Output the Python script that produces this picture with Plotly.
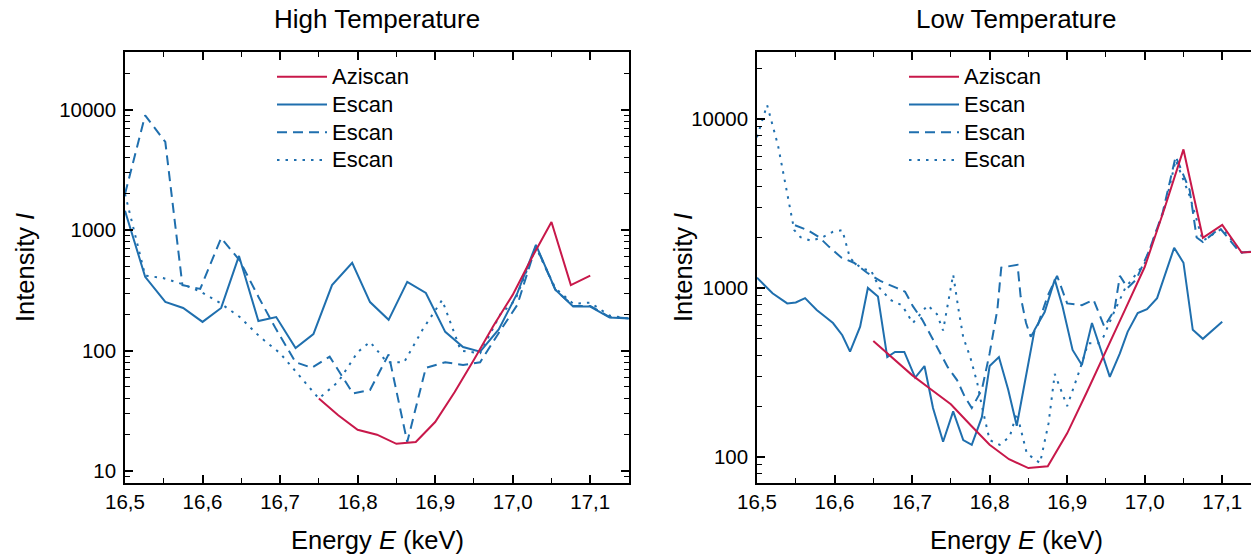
import plotly.graph_objects as go

# ---------------- data ----------------
# High temperature panel
hi_azi_E = [16.75, 16.775, 16.80, 16.825, 16.85, 16.875, 16.90, 16.925, 16.95, 16.975, 17.00, 17.025, 17.05, 17.075, 17.10]
hi_azi_I = [40, 29, 22, 20, 16.8, 17.4, 25.5, 45, 84, 160, 290, 596, 1170, 350, 420]

hi_solid_E = [16.5, 16.526, 16.552, 16.575, 16.6, 16.624, 16.647, 16.672, 16.695, 16.72, 16.743, 16.767,
              16.793, 16.816, 16.84, 16.864, 16.888, 16.913, 16.936, 16.958, 16.982, 17.006, 17.03,
              17.055, 17.078, 17.1, 17.125, 17.15]
hi_solid_I = [1450, 410, 254, 226, 173, 226, 611, 176, 190, 105, 137, 350,
              535, 253, 180, 372, 301, 143, 107, 98, 150, 300, 755,
              320, 232, 232, 188, 185]

hi_dash_E = [16.5, 16.526, 16.552, 16.574, 16.597, 16.624, 16.648, 16.672, 16.695, 16.72, 16.741, 16.764,
             16.794, 16.816, 16.84, 16.864, 16.888, 16.913, 16.936, 16.958, 16.982, 17.006, 17.03,
             17.055, 17.078, 17.1, 17.125, 17.15]
hi_dash_I = [2000, 9000, 5400, 350, 325, 860, 560, 280, 150, 80, 72, 89,
             44, 47, 93, 17.4, 72, 80, 76, 80, 140, 240, 740,
             320, 235, 235, 190, 185]

hi_dot_E = [16.5, 16.526, 16.549, 16.572, 16.597, 16.622, 16.648, 16.674, 16.7, 16.726, 16.75, 16.775,
            16.8, 16.816, 16.838, 16.86, 16.884, 16.909, 16.933, 16.958, 16.984, 17.003, 17.03,
            17.055, 17.078, 17.1, 17.125, 17.15]
hi_dot_I = [2000, 420, 400, 360, 310, 250, 190, 130, 95, 61, 40, 55,
            97, 118, 80, 80, 150, 263, 100, 95, 200, 260, 720,
            330, 245, 250, 195, 185]

# Low temperature panel
lo_azi_E = [16.65, 16.675, 16.70, 16.725, 16.75, 16.775, 16.80, 16.825, 16.85, 16.875, 16.90,
            16.925, 16.95, 16.975, 17.00, 17.025, 17.05, 17.075, 17.10, 17.125, 17.15]
lo_azi_I = [485, 385, 305, 250, 205, 155, 118, 97, 86, 88, 138,
            240, 420, 750, 1330, 2900, 6600, 1980, 2360, 1620, 1650]

lo_solid_E = [16.5, 16.52, 16.539, 16.55, 16.562, 16.577, 16.588, 16.598, 16.61, 16.62, 16.633, 16.643,
              16.656, 16.668, 16.678, 16.69, 16.704, 16.716, 16.727, 16.74, 16.753, 16.766, 16.777,
              16.79, 16.8, 16.812, 16.824, 16.835, 16.858, 16.871, 16.884, 16.894, 16.907, 16.919,
              16.932, 16.942, 16.955, 16.968, 16.978, 16.991, 17.003, 17.016, 17.026, 17.038, 17.05,
              17.062, 17.075, 17.1]
lo_solid_I = [1150, 930, 810, 820, 870, 740, 675, 620, 525, 420, 590, 1000,
              890, 390, 418, 418, 295, 345, 195, 123, 186, 126, 118,
              172, 345, 390, 250, 153, 565, 720, 1120, 780, 430, 350,
              620, 445, 298, 410, 550, 710, 750, 870, 1190, 1730, 1410,
              565, 500, 630]

lo_dash_E = [16.549, 16.565, 16.58, 16.593, 16.609, 16.625, 16.642, 16.659, 16.68, 16.691, 16.701, 16.713,
             16.725, 16.736, 16.746, 16.758, 16.768, 16.777, 16.79, 16.8, 16.81, 16.815, 16.836, 16.84,
             16.847, 16.853, 16.862, 16.875, 16.887, 16.9, 16.919, 16.934, 16.948, 16.961, 16.968,
             16.978, 16.989, 17.006, 17.023, 17.04, 17.058, 17.067, 17.075, 17.097, 17.123, 17.15]
lo_dash_I = [2350, 2200, 2000, 1750, 1510, 1410, 1230, 1100, 1000, 950, 780, 650,
             515, 410, 340, 285, 227, 195, 250, 410, 745, 1320, 1370, 890,
             620, 515, 600, 900, 1180, 810, 790, 850, 590, 740, 1180,
             1000, 1120, 1670, 2770, 6000, 3800, 1990, 1870, 2260, 1620, 1650]

lo_dot_E = [16.5, 16.513, 16.527, 16.54, 16.548, 16.556, 16.57, 16.585, 16.598, 16.61, 16.62, 16.635,
            16.647, 16.658, 16.672, 16.687, 16.701, 16.72, 16.732, 16.74, 16.753, 16.76, 16.766,
            16.775, 16.784, 16.79, 16.8, 16.813, 16.826, 16.835, 16.848, 16.865, 16.876, 16.884,
            16.9, 16.916, 16.927, 16.94, 16.947, 16.958, 16.975, 17.0, 17.025, 17.04, 17.058,
            17.075, 17.1, 17.125, 17.15]
lo_dot_I = [7800, 12100, 7000, 3500, 2200, 2000, 1900, 2000, 2150, 2200, 1500, 1300,
            1270, 1000, 850, 790, 620, 790, 700, 560, 1200, 740, 510,
            390, 275, 200, 126, 118, 132, 182, 105, 92, 158, 310,
            200, 325, 470, 470, 515, 680, 1000, 1400, 2900, 5700, 3500,
            1900, 2250, 1620, 1650]

x_ticks = [16.5, 16.6, 16.7, 16.8, 16.9, 17.0, 17.1]
x_ticktext = ["16,5", "16,6", "16,7", "16,8", "16,9", "17,0", "17,1"]
y_ticks = [10, 100, 1000, 10000]
y_ticktext = ["10", "100", "1000", "10000"]

# ---------------- styling ----------------
PAGE_W, PAGE_H = 1259, 558
OFF = 8                      # default page body margin
W, H = PAGE_W - OFF, PAGE_H - OFF
RED = "#C8184A"
BLUE = "#1F6FAE"
FONT = "Arial, Liberation Sans, sans-serif"
DASH = "10px,6px"
DOT = "2.5px,6px"


def fx(px):
    return (px - OFF) / W


def fy(py):
    return (H - (py - OFF)) / H


fig = go.Figure()


def add(x, y, name, color, dash, xa, ya, legend, rank):
    label = '<span style="font-size:22px">%s</span>' % name
    fig.add_trace(go.Scatter(x=x, y=y, mode="lines", name=label,
                             line=dict(color=color, width=2, dash=dash),
                             xaxis=xa, yaxis=ya, legend=legend, legendrank=rank))


add(hi_solid_E, hi_solid_I, "Escan", BLUE, "solid", "x", "y", "legend", 2)
add(hi_dash_E, hi_dash_I, "Escan", BLUE, DASH, "x", "y", "legend", 3)
add(hi_dot_E, hi_dot_I, "Escan", BLUE, DOT, "x", "y", "legend", 4)
add(hi_azi_E, hi_azi_I, "Aziscan", RED, "solid", "x", "y", "legend", 1)

add(lo_solid_E, lo_solid_I, "Escan", BLUE, "solid", "x2", "y2", "legend2", 2)
add(lo_dash_E, lo_dash_I, "Escan", BLUE, DASH, "x2", "y2", "legend2", 3)
add(lo_dot_E, lo_dot_I, "Escan", BLUE, DOT, "x2", "y2", "legend2", 4)
add(lo_azi_E, lo_azi_I, "Aziscan", RED, "solid", "x2", "y2", "legend2", 1)

x_minor = [v + 0.05 for v in x_ticks]
y_minor = [k * 10 ** d for d in range(0, 5) for k in range(2, 10)]

ydom = [fy(483), fy(52)]
xdom1 = [fx(125), fx(629)]
xdom2 = [fx(757), 1.0]
px_per_kev = 504 / 0.65
x2_end = 16.5 + (PAGE_W - 757) / px_per_kev

common_x = dict(tickmode="array", tickvals=x_ticks, ticktext=x_ticktext,
                ticks="inside", ticklen=8, tickwidth=1.5, tickcolor="black",
                minor=dict(tickmode="array", tickvals=x_minor, ticks="inside", ticklen=5,
                           tickwidth=1.2, tickcolor="black", showgrid=False),
                showline=True, linewidth=1.5, linecolor="black", mirror="ticks",
                showgrid=False, zeroline=False, automargin=False,
                tickfont=dict(family=FONT, size=20.5, color="black"))
common_y = dict(type="log", tickmode="array", tickvals=y_ticks, ticktext=y_ticktext,
                ticks="inside", ticklen=8, tickwidth=1.5, tickcolor="black",
                minor=dict(tickmode="array", tickvals=y_minor, ticks="inside", ticklen=5,
                           tickwidth=1.2, tickcolor="black", showgrid=False),
                showline=True, linewidth=1.5, linecolor="black", mirror="ticks",
                showgrid=False, zeroline=False, automargin=False, ticklabelstandoff=3,
                tickfont=dict(family=FONT, size=20.5, color="black"))

fig.update_layout(
    width=W, height=H,
    margin=dict(l=0, r=0, t=0, b=0, pad=0),
    paper_bgcolor="white", plot_bgcolor="white",
    font=dict(family=FONT, color="black"),
    xaxis=dict(domain=xdom1, range=[16.5, 17.15], anchor="y", **common_x),
    yaxis=dict(domain=ydom, range=[0.9, 4.48], anchor="x", **common_y),
    xaxis2=dict(domain=xdom2, range=[16.5, x2_end], anchor="y2", **common_x),
    yaxis2=dict(domain=ydom, range=[1.846, 4.396], anchor="x2", **common_y),
    legend=dict(x=(264 - 0) / W, y=1 - 50 / H, xanchor="left", yanchor="top",
                bgcolor="rgba(0,0,0,0)", font=dict(family=FONT, size=19, color="black"),
                itemwidth=50, tracegroupgap=0),
    legend2=dict(x=(896 - 0) / W, y=1 - 50 / H, xanchor="left", yanchor="top",
                 bgcolor="rgba(0,0,0,0)", font=dict(family=FONT, size=19, color="black"),
                 itemwidth=50, tracegroupgap=0),
    showlegend=True,
)

ann = [
    ("High Temperature", 377, 19, 0, 26),
    ("Low Temperature", 1016, 19, 0, 26),
    ("Energy <i>E</i> (keV)", 377, 540, 0, 25.5),
    ("Energy <i>E</i> (keV)", 1016, 540, 0, 25.5),
    ("Intensity <i>I</i>", 25, 268, -90, 25.5),
    ("Intensity <i>I</i>", 683, 268, -90, 25.5),
]
for text, px, py, ang, fs in ann:
    fig.add_annotation(text=text, x=fx(px), y=fy(py), xref="paper", yref="paper",
                       xanchor="center", yanchor="middle", showarrow=False, textangle=ang,
                       font=dict(family=FONT, size=fs, color="black"))

fig.write_html("out.html")
